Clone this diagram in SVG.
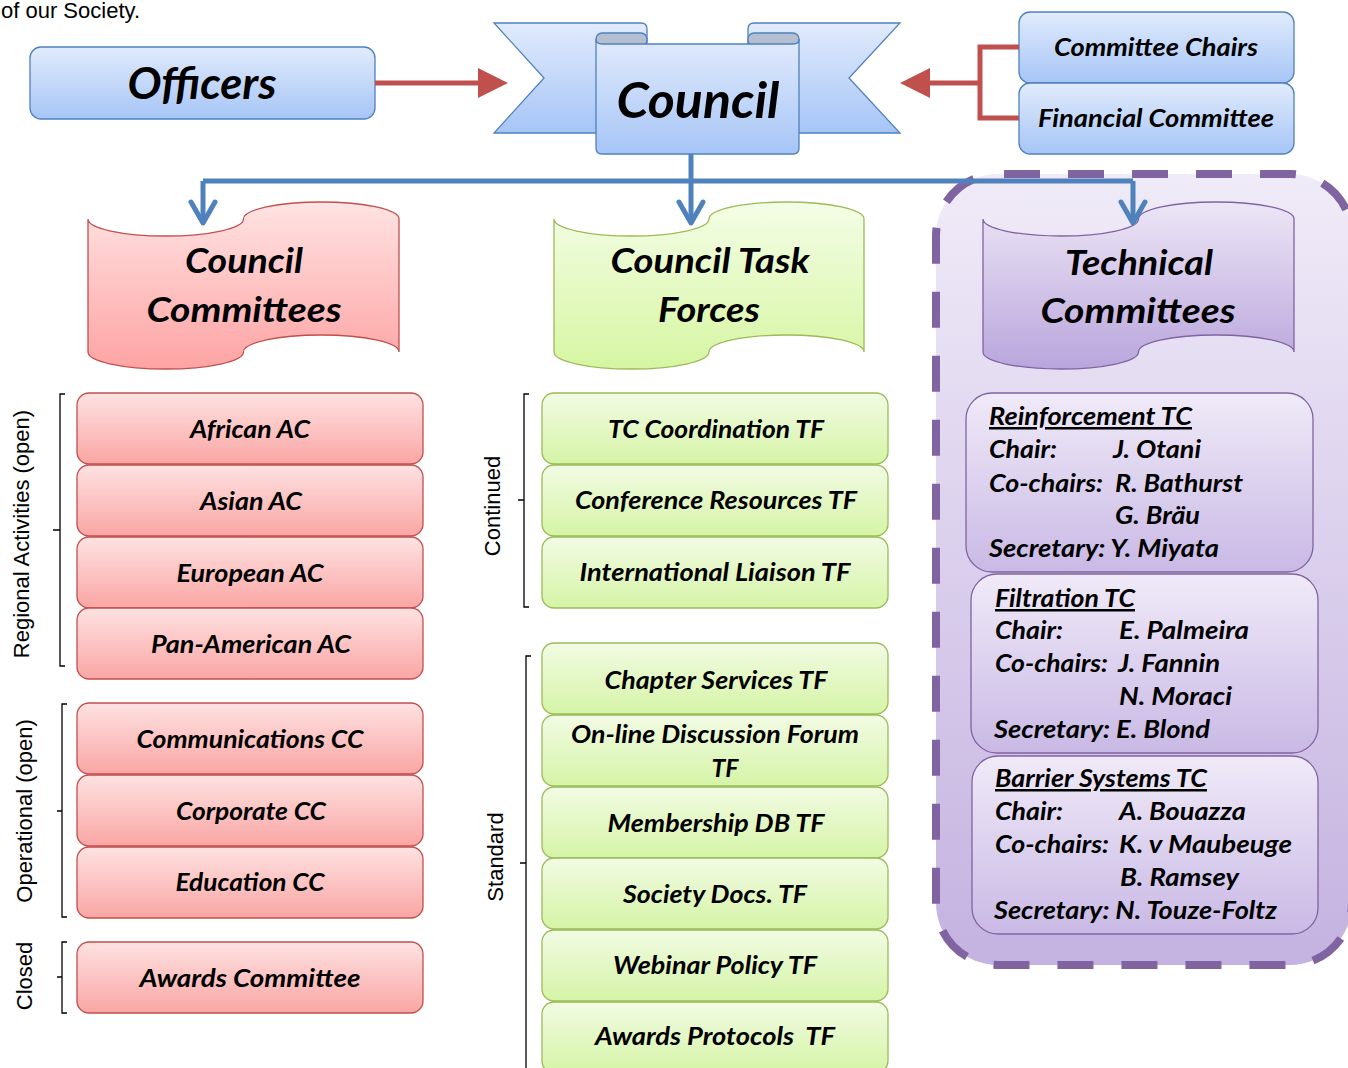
<svg xmlns="http://www.w3.org/2000/svg" width="1348" height="1068" viewBox="0 0 1348 1068">
<defs>
<linearGradient id="gBlue" x1="0" y1="0" x2="0" y2="1"><stop offset="0" stop-color="#e1ebfc"/><stop offset="1" stop-color="#a6c5f6"/></linearGradient>
<linearGradient id="gRed" x1="0" y1="0" x2="0" y2="1"><stop offset="0" stop-color="#fee2e2"/><stop offset="1" stop-color="#f9a6a4"/></linearGradient>
<linearGradient id="gGreen" x1="0" y1="0" x2="0" y2="1"><stop offset="0" stop-color="#f2fbe4"/><stop offset="1" stop-color="#d5f4a6"/></linearGradient>
<linearGradient id="gPurple" x1="0" y1="0" x2="0" y2="1"><stop offset="0" stop-color="#f0eaf8"/><stop offset="1" stop-color="#c9b9e5"/></linearGradient>
<linearGradient id="gRedDoc" x1="0" y1="0" x2="0" y2="1"><stop offset="0" stop-color="#ffe3e3"/><stop offset="1" stop-color="#fea3a3"/></linearGradient>
<linearGradient id="gGreenDoc" x1="0" y1="0" x2="0" y2="1"><stop offset="0" stop-color="#f4fde6"/><stop offset="1" stop-color="#d6f6a2"/></linearGradient>
<linearGradient id="gPurpleDoc" x1="0" y1="0" x2="0" y2="1"><stop offset="0" stop-color="#ede6f6"/><stop offset="1" stop-color="#b9a5dc"/></linearGradient>
<linearGradient id="gCont" x1="0" y1="0" x2="0" y2="1"><stop offset="0" stop-color="#f0ebf8"/><stop offset="1" stop-color="#c4b2e0"/></linearGradient>
<marker id="redHead" markerUnits="userSpaceOnUse" markerWidth="30" markerHeight="30" viewBox="0 0 30 30" refX="0" refY="15" orient="auto" overflow="visible">
<path d="M0,0 L30,15 L0,30 Z" fill="#c0504d"/>
</marker>
<marker id="blueHead" markerUnits="userSpaceOnUse" markerWidth="30" markerHeight="30" viewBox="-25 -15 30 30" refX="0" refY="0" orient="auto" overflow="visible">
<path d="M-21,-12 L0,0 L-21,12" fill="none" stroke="#4f81bd" stroke-width="5" stroke-linecap="round" stroke-linejoin="round"/>
</marker>
<style>
.m{font-family:Lato,'Open Sans','Liberation Sans',sans-serif;font-weight:bold;font-style:italic;fill:#000;}
.c{text-anchor:middle;}
.box{font-size:25px;}
.tc{font-size:25px;}
.doc{font-size:34px;}
.lbl{font-family:'Liberation Sans',Arial,sans-serif;font-size:22px;fill:#000;text-anchor:middle;}
.bk{fill:none;stroke:#000;stroke-width:1.3;}
.rb{fill:url(#gRed);stroke:#c0504d;stroke-width:1.3;}
.gb{fill:url(#gGreen);stroke:#9bbb59;stroke-width:1.3;}
.pb{fill:url(#gPurple);stroke:#8064a2;stroke-width:1.3;}
.bb{fill:url(#gBlue);stroke:#4f81bd;stroke-width:1.3;}
.red{fill:none;stroke:#c0504d;stroke-width:5;}
.blue{fill:none;stroke:#4f81bd;stroke-width:5;}
</style>
</defs>
<rect width="1348" height="1068" fill="#fff"/>
<text id="intro" x="1" y="18" font-family="'Liberation Sans',Arial,sans-serif" font-size="22" fill="#000">of our Society.</text>

<g id="tc-container">
<rect x="936" y="174" width="416" height="791" rx="62" fill="url(#gCont)" stroke="#8064a2" stroke-width="8" stroke-dasharray="36 28" stroke-dashoffset="58"/>
</g>

<g id="officers">
<rect class="bb" x="30" y="47" width="345" height="72" rx="11"/>
<text class="m c" x="202" y="99" font-size="43" textLength="149" lengthAdjust="spacingAndGlyphs">Officers</text>
</g>

<g id="council">
<path class="bb" d="M494,23 L641,23 Q647,23 647,29 L647,133 L494,133 L544,78 Z"/>
<path class="bb" d="M900,23 L754,23 Q748,23 748,29 L748,133 L900,133 L849,78 Z"/>
<rect x="596" y="33" width="51" height="13" rx="6" fill="#b4bfd0" stroke="#4f81bd" stroke-width="1.3"/>
<rect x="748" y="33" width="51" height="13" rx="6" fill="#b4bfd0" stroke="#4f81bd" stroke-width="1.3"/>
<path class="bb" d="M596,39 Q596,44 602,44 L793,44 Q799,44 799,39 L799,148 Q799,154 793,154 L602,154 Q596,154 596,148 Z"/>
<text class="m c" x="698" y="118" font-size="50" textLength="163" lengthAdjust="spacingAndGlyphs">Council</text>
</g>

<g id="committee-chairs">
<rect class="bb" x="1019" y="12" width="275" height="71" rx="11"/>
<text class="m c" x="1156" y="56" font-size="24" textLength="204" lengthAdjust="spacingAndGlyphs">Committee Chairs</text>
</g>
<g id="financial-committee">
<rect class="bb" x="1019" y="83" width="275" height="71" rx="11"/>
<text class="m c" x="1156" y="127" font-size="24" textLength="236" lengthAdjust="spacingAndGlyphs">Financial Committee</text>
</g>

<g id="council-committees">
<path d="M88,219 A77.75,17 0 0 0 165.75,236 A77.75,17 0 0 0 243.5,219 A77.75,17 0 0 1 321.25,202 A77.75,17 0 0 1 399,219 L399,352 A77.75,17 0 0 0 321.25,335 A77.75,17 0 0 0 243.5,352 A77.75,17 0 0 1 165.75,369 A77.75,17 0 0 1 88,352 Z" fill="url(#gRedDoc)" stroke="#c0504d" stroke-width="1.3"/>
<text class="m c doc" x="244" y="273" textLength="118" lengthAdjust="spacingAndGlyphs">Council</text>
<text class="m c doc" x="244" y="322" textLength="195" lengthAdjust="spacingAndGlyphs">Committees</text>
</g>

<g id="council-task-forces">
<path d="M554,219 A77.5,17 0 0 0 631.5,236 A77.5,17 0 0 0 709,219 A77.5,17 0 0 1 786.5,202 A77.5,17 0 0 1 864,219 L864,352 A77.5,17 0 0 0 786.5,335 A77.5,17 0 0 0 709,352 A77.5,17 0 0 1 631.5,369 A77.5,17 0 0 1 554,352 Z" fill="url(#gGreenDoc)" stroke="#9bbb59" stroke-width="1.3"/>
<text class="m c doc" x="710" y="273" textLength="199" lengthAdjust="spacingAndGlyphs">Council Task</text>
<text class="m c doc" x="709" y="322" textLength="102" lengthAdjust="spacingAndGlyphs">Forces</text>
</g>

<g id="technical-committees">
<path d="M983,219 A77.75,17 0 0 0 1060.75,236 A77.75,17 0 0 0 1138.5,219 A77.75,17 0 0 1 1216.25,202 A77.75,17 0 0 1 1294,219 L1294,352 A77.75,17 0 0 0 1216.25,335 A77.75,17 0 0 0 1138.5,352 A77.75,17 0 0 1 1060.75,369 A77.75,17 0 0 1 983,352 Z" fill="url(#gPurpleDoc)" stroke="#8064a2" stroke-width="1.3"/>
<text class="m c doc" x="1139" y="275" textLength="148" lengthAdjust="spacingAndGlyphs">Technical</text>
<text class="m c doc" x="1138" y="323" textLength="195" lengthAdjust="spacingAndGlyphs">Committees</text>
</g>

<g id="bracket-regional">
<path class="bk" d="M65,394 H60 V666 H65 M60,530 H53"/>
<text class="lbl" transform="translate(29,534) rotate(-90)">Regional Activities (open)</text>
</g>
<g id="bracket-operational">
<path class="bk" d="M67,704 H62 V917 H67 M62,811 H57"/>
<text class="lbl" transform="translate(32,811) rotate(-90)">Operational (open)</text>
</g>
<g id="bracket-closed">
<path class="bk" d="M67,942 H62 V1013 H67 M62,977 H57"/>
<text class="lbl" transform="translate(32,976) rotate(-90)">Closed</text>
</g>
<g id="bracket-continued">
<path class="bk" d="M529,394 H524 V607 H529 M524,500 H518"/>
<text class="lbl" transform="translate(500,506) rotate(-90)">Continued</text>
</g>
<g id="bracket-standard">
<path class="bk" d="M531,656 H526 V1075 M526,863 H520"/>
<text class="lbl" transform="translate(503,857) rotate(-90)">Standard</text>
</g>

<g id="african-ac"><rect class="rb" x="77" y="393" width="346" height="71" rx="12"/><text class="m c box" x="250" y="438" textLength="120" lengthAdjust="spacingAndGlyphs">African AC</text></g>
<g id="asian-ac"><rect class="rb" x="77" y="465" width="346" height="71" rx="12"/><text class="m c box" x="251" y="510" textLength="102" lengthAdjust="spacingAndGlyphs">Asian AC</text></g>
<g id="european-ac"><rect class="rb" x="77" y="537" width="346" height="71" rx="12"/><text class="m c box" x="250" y="582" textLength="147" lengthAdjust="spacingAndGlyphs">European AC</text></g>
<g id="pan-american-ac"><rect class="rb" x="77" y="608" width="346" height="71" rx="12"/><text class="m c box" x="251" y="653" textLength="200" lengthAdjust="spacingAndGlyphs">Pan-American AC</text></g>
<g id="communications-cc"><rect class="rb" x="77" y="703" width="346" height="71" rx="12"/><text class="m c box" x="250" y="748" textLength="227" lengthAdjust="spacingAndGlyphs">Communications CC</text></g>
<g id="corporate-cc"><rect class="rb" x="77" y="775" width="346" height="71" rx="12"/><text class="m c box" x="251" y="820" textLength="150" lengthAdjust="spacingAndGlyphs">Corporate CC</text></g>
<g id="education-cc"><rect class="rb" x="77" y="847" width="346" height="71" rx="12"/><text class="m c box" x="250" y="891" textLength="149" lengthAdjust="spacingAndGlyphs">Education CC</text></g>
<g id="awards-committee"><rect class="rb" x="77" y="942" width="346" height="71" rx="12"/><text class="m c box" x="250" y="987" textLength="221" lengthAdjust="spacingAndGlyphs">Awards Committee</text></g>

<g id="tc-coordination-tf"><rect class="gb" x="542" y="393" width="346" height="71" rx="12"/><text class="m c box" x="716" y="438" textLength="216" lengthAdjust="spacingAndGlyphs">TC Coordination TF</text></g>
<g id="conference-resources-tf"><rect class="gb" x="542" y="465" width="346" height="71" rx="12"/><text class="m c box" x="716" y="509" textLength="282" lengthAdjust="spacingAndGlyphs">Conference Resources TF</text></g>
<g id="international-liaison-tf"><rect class="gb" x="542" y="537" width="346" height="71" rx="12"/><text class="m c box" x="715" y="581" textLength="271" lengthAdjust="spacingAndGlyphs">International Liaison TF</text></g>
<g id="chapter-services-tf"><rect class="gb" x="542" y="643" width="346" height="71" rx="12"/><text class="m c box" x="716" y="689" textLength="223" lengthAdjust="spacingAndGlyphs">Chapter Services TF</text></g>
<g id="online-forum-tf"><rect class="gb" x="542" y="715" width="346" height="71" rx="12"/><text class="m c box" x="715" y="743" textLength="288" lengthAdjust="spacingAndGlyphs">On-line Discussion Forum</text><text class="m c box" x="725" y="777" textLength="27" lengthAdjust="spacingAndGlyphs">TF</text></g>
<g id="membership-db-tf"><rect class="gb" x="542" y="787" width="346" height="71" rx="12"/><text class="m c box" x="716" y="832" textLength="217" lengthAdjust="spacingAndGlyphs">Membership DB TF</text></g>
<g id="society-docs-tf"><rect class="gb" x="542" y="858" width="346" height="71" rx="12"/><text class="m c box" x="715" y="903" textLength="184" lengthAdjust="spacingAndGlyphs">Society Docs. TF</text></g>
<g id="webinar-policy-tf"><rect class="gb" x="542" y="930" width="346" height="71" rx="12"/><text class="m c box" x="715" y="974" textLength="204" lengthAdjust="spacingAndGlyphs">Webinar Policy TF</text></g>
<g id="awards-protocols-tf"><rect class="gb" x="542" y="1002" width="346" height="71" rx="12"/><text class="m c box" x="715" y="1045" textLength="240" lengthAdjust="spacingAndGlyphs" xml:space="preserve" style="white-space:pre">Awards Protocols  TF</text></g>

<g id="reinforcement-tc">
<rect class="pb" x="966" y="393" width="347" height="179" rx="26"/>
<text class="m tc" x="989" y="425" text-decoration="underline" textLength="203" lengthAdjust="spacingAndGlyphs">Reinforcement TC</text>
<text class="m tc" x="989" y="458" textLength="68" lengthAdjust="spacingAndGlyphs">Chair:</text>
<text class="m tc" x="1113" y="458" textLength="88" lengthAdjust="spacingAndGlyphs">J. Otani</text>
<text class="m tc" x="989" y="492" textLength="114" lengthAdjust="spacingAndGlyphs">Co-chairs:</text>
<text class="m tc" x="1115" y="492" textLength="128" lengthAdjust="spacingAndGlyphs">R. Bathurst</text>
<text class="m tc" x="1115" y="524" textLength="85" lengthAdjust="spacingAndGlyphs">G. Bräu</text>
<text class="m tc" x="989" y="557" textLength="230" lengthAdjust="spacingAndGlyphs">Secretary: Y. Miyata</text>
</g>
<g id="filtration-tc">
<rect class="pb" x="971" y="574" width="347" height="179" rx="26"/>
<text class="m tc" x="995" y="607" text-decoration="underline" textLength="140" lengthAdjust="spacingAndGlyphs">Filtration TC</text>
<text class="m tc" x="995" y="639" textLength="68" lengthAdjust="spacingAndGlyphs">Chair:</text>
<text class="m tc" x="1119" y="639" textLength="130" lengthAdjust="spacingAndGlyphs">E. Palmeira</text>
<text class="m tc" x="995" y="672" textLength="113" lengthAdjust="spacingAndGlyphs">Co-chairs:</text>
<text class="m tc" x="1118" y="672" textLength="102" lengthAdjust="spacingAndGlyphs">J. Fannin</text>
<text class="m tc" x="1119" y="705" textLength="113" lengthAdjust="spacingAndGlyphs">N. Moraci</text>
<text class="m tc" x="994" y="738" textLength="216" lengthAdjust="spacingAndGlyphs">Secretary: E. Blond</text>
</g>
<g id="barrier-systems-tc">
<rect class="pb" x="972" y="756" width="346" height="178" rx="26"/>
<text class="m tc" x="995" y="787" text-decoration="underline" textLength="212" lengthAdjust="spacingAndGlyphs">Barrier Systems TC</text>
<text class="m tc" x="995" y="820" textLength="68" lengthAdjust="spacingAndGlyphs">Chair:</text>
<text class="m tc" x="1119" y="820" textLength="127" lengthAdjust="spacingAndGlyphs">A. Bouazza</text>
<text class="m tc" x="995" y="853" textLength="114" lengthAdjust="spacingAndGlyphs">Co-chairs:</text>
<text class="m tc" x="1119" y="853" textLength="173" lengthAdjust="spacingAndGlyphs">K. v Maubeuge</text>
<text class="m tc" x="1120" y="886" textLength="119" lengthAdjust="spacingAndGlyphs">B. Ramsey</text>
<text class="m tc" x="994" y="919" textLength="283" lengthAdjust="spacingAndGlyphs">Secretary: N. Touze-Foltz</text>
</g>

<g id="connectors">
<path class="red" d="M375,83 H478" marker-end="url(#redHead)"/>
<path class="red" d="M1019,47 H980 V118 H1019"/>
<path class="red" d="M980,83 H930" marker-end="url(#redHead)"/>
<path class="blue" d="M691,154 V181"/>
<path class="blue" d="M203,181 H1133"/>
<path class="blue" d="M203,181 V223" marker-end="url(#blueHead)"/>
<path class="blue" d="M691,181 V223" marker-end="url(#blueHead)"/>
<path class="blue" d="M1133,181 V223" marker-end="url(#blueHead)"/>
</g>
</svg>
